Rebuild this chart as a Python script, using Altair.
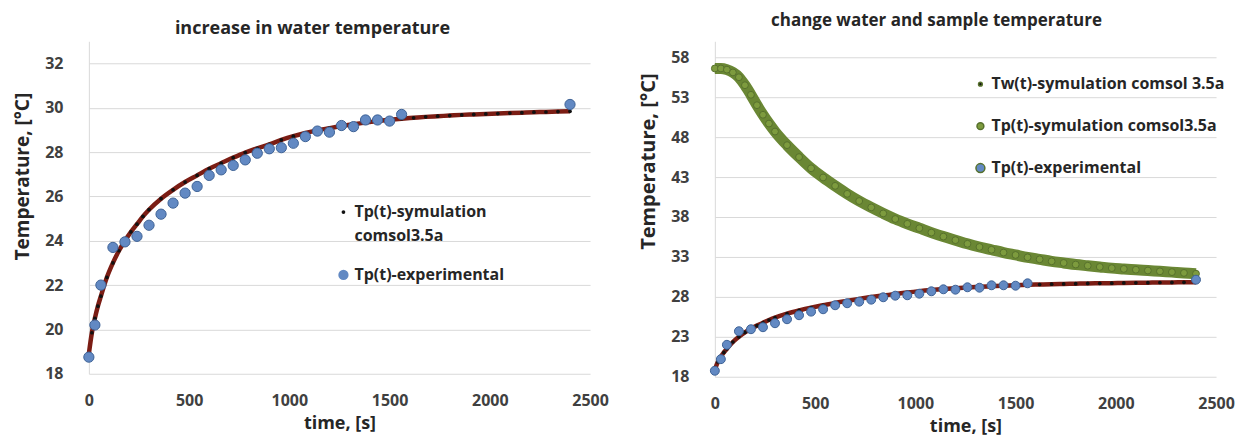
import altair as alt
import pandas as pd

FONT = "Open Sans"

# simulated water temperature (shared by both panels)
sim_t = [0, 15, 30, 45, 60, 90, 120, 150, 180, 210, 240, 270, 300, 360, 420, 480, 540, 600,
         660, 720, 780, 840, 900, 960, 1020, 1080, 1140, 1200, 1260, 1320, 1380, 1440, 1500,
         1560, 1620, 1680, 1740, 1800, 1860, 1920, 1980, 2040, 2100, 2160, 2220, 2280, 2340, 2400]
sim_T = [18.9, 19.85, 20.5, 21.05, 21.5, 22.35, 23.0, 23.55, 24.0, 24.4, 24.75, 25.1, 25.4,
         25.9, 26.3, 26.65, 26.95, 27.25, 27.5, 27.75, 27.98, 28.17, 28.35, 28.55, 28.72, 28.86,
         28.98, 29.08, 29.18, 29.26, 29.33, 29.4, 29.46, 29.51, 29.55, 29.59, 29.62, 29.65,
         29.68, 29.7, 29.72, 29.74, 29.76, 29.78, 29.8, 29.81, 29.83, 29.84]

# experimental points
exp_t = [0, 30, 60, 120, 180, 240, 300, 360, 420, 480, 540, 600, 660, 720, 780, 840, 900, 960,
         1020, 1080, 1140, 1200, 1260, 1320, 1380, 1440, 1500, 1560, 2400]
exp_T = [18.75, 20.2, 22.0, 23.7, 23.95, 24.2, 24.7, 25.2, 25.7, 26.15, 26.45, 26.95, 27.2,
         27.4, 27.65, 27.95, 28.15, 28.2, 28.4, 28.7, 28.95, 28.9, 29.2, 29.15, 29.45, 29.45,
         29.4, 29.7, 30.15]

# simulated sample temperature (right panel)
smp_t = [0, 30, 60, 90, 120, 150, 180, 210, 240, 270, 300, 360, 420, 480, 540, 600, 660, 720,
         780, 840, 900, 960, 1020, 1080, 1140, 1200, 1260, 1320, 1380, 1440, 1500, 1560, 1620,
         1680, 1740, 1800, 1860, 1920, 1980, 2040, 2100, 2160, 2220, 2280, 2340, 2400]
smp_T = [56.6, 56.6, 56.45, 56.1, 55.5, 54.5, 53.3, 52.0, 50.8, 49.7, 48.7, 47.0, 45.5, 44.1,
         42.95, 41.9, 40.9, 40.0, 39.2, 38.45, 37.75, 37.15, 36.6, 36.05, 35.55, 35.1, 34.65,
         34.25, 33.9, 33.55, 33.25, 32.95, 32.7, 32.45, 32.25, 32.05, 31.9, 31.75, 31.6, 31.5,
         31.4, 31.3, 31.2, 31.1, 31.0, 30.9]

x_ticks = [0, 500, 1000, 1500, 2000, 2500]
left_y_ticks = [18, 20, 22, 24, 26, 28, 30, 32]
right_y_ticks = [18, 23, 28, 33, 38, 43, 48, 53, 58]

left_names = ["Tp(t)-symulation comsol3.5a", "Tp(t)-experimental"]
right_names = ["Tw(t)-symulation comsol 3.5a", "Tp(t)-symulation comsol3.5a", "Tp(t)-experimental"]

MAROON = "#7b1d14"
BLUE = "#6289c3"
BLUE_EDGE = "#3e6296"
GREEN = "#7d9b3e"
GREEN_EDGE = "#56702c"
GREEN_LINE = "#6a8734"
GRID = "#d9d9d9"


def x_enc():
    return alt.X("t:Q", scale=alt.Scale(domain=[0, 2500], nice=False),
                 axis=alt.Axis(values=x_ticks, format="d", grid=False, ticks=False, domain=False,
                               labelFlush=False, labelPadding=19, labelFontSize=16,
                               title="time, [s]", titleFontSize=18, titlePadding=6))


def y_enc(dom, ticks, title_size, title_y):
    return alt.Y("T:Q", scale=alt.Scale(domain=dom, nice=False, zero=False),
                 axis=alt.Axis(values=ticks, grid=True, gridColor=GRID, ticks=False,
                               domain=True, domainColor=GRID, labelPadding=26,
                               labelFontSize=16, title="Temperature, [°C]",
                               titleFontSize=title_size, titlePadding=12, titleY=title_y))


def legend(lx, ly, row_pad, label_expr=None):
    kw = dict(orient="none", legendX=lx, legendY=ly, title=None, labelFont=FONT,
              labelFontSize=16, labelFontWeight="bold", labelColor="#262626",
              symbolType="circle", rowPadding=row_pad, labelLimit=400, labelOffset=3,
              padding=0)
    if label_expr:
        kw["labelExpr"] = label_expr
    return alt.Legend(**kw)


# ---------------- left panel ----------------
ldf_sim = pd.DataFrame({"t": sim_t, "T": sim_T, "s1": left_names[0]})
ldf_exp = pd.DataFrame({"t": exp_t, "T": exp_T, "s1": left_names[1]})

lx = x_enc()
ly = y_enc([18, 33], left_y_ticks, 19, 135)
lleg = legend(247, 163, 23,
              "datum.label == 'Tp(t)-symulation comsol3.5a' ? ['Tp(t)-symulation', 'comsol3.5a'] : datum.label")
lcolor = alt.Color("s1:N", scale=alt.Scale(domain=left_names, range=["#111111", BLUE]), legend=lleg)
lsize = alt.Size("s1:N", scale=alt.Scale(domain=left_names, range=[14, 105]), legend=lleg)

left = alt.layer(
    alt.Chart(ldf_sim).mark_line(color=MAROON, strokeWidth=4.5, interpolate="monotone").encode(x=lx, y=ly),
    alt.Chart(ldf_sim).mark_point(filled=True, opacity=1).encode(x=lx, y=ly, color=lcolor, size=lsize),
    alt.Chart(ldf_exp).mark_point(filled=True, opacity=1, stroke=BLUE_EDGE, strokeWidth=1).encode(
        x=lx, y=ly, color=lcolor, size=lsize),
).properties(
    width=502, height=333,
    title=alt.TitleParams("increase in water temperature", fontSize=18, offset=3, dx=-27),
)

# ---------------- right panel ----------------
rdf_sim = pd.DataFrame({"t": sim_t, "T": sim_T, "s2": right_names[0]})
rdf_smp = pd.DataFrame({"t": smp_t, "T": smp_T, "s2": right_names[1]})
rdf_exp = pd.DataFrame({"t": exp_t, "T": exp_T, "s2": right_names[2]})

rx = x_enc()
ry = y_enc([18, 60], right_y_ticks, 20, 120)
rleg = legend(258, 35, 26)
rcolor = alt.Color("s2:N", scale=alt.Scale(domain=right_names, range=["#111111", GREEN, BLUE]), legend=rleg)
rsize = alt.Size("s2:N", scale=alt.Scale(domain=right_names, range=[14, 80, 90]), legend=rleg)

right = alt.layer(
    alt.Chart(rdf_smp).mark_line(color=GREEN_LINE, strokeWidth=11, interpolate="monotone").encode(x=rx, y=ry),
    alt.Chart(rdf_smp).mark_point(filled=True, opacity=1, stroke=GREEN_EDGE, strokeWidth=1).encode(
        x=rx, y=ry, color=rcolor, size=rsize),
    alt.Chart(rdf_sim).mark_line(color=MAROON, strokeWidth=4.5, interpolate="monotone").encode(x=rx, y=ry),
    alt.Chart(rdf_sim).mark_point(filled=True, opacity=1).encode(x=rx, y=ry, color=rcolor, size=rsize),
    alt.Chart(rdf_exp).mark_point(filled=True, opacity=1, stroke=BLUE_EDGE, strokeWidth=1).encode(
        x=rx, y=ry, color=rcolor, size=rsize),
).properties(
    width=502, height=336,
    title=alt.TitleParams("change water and sample temperature", fontSize=17, offset=11, dx=-29),
)

chart = alt.hconcat(left, right, spacing=29).resolve_scale(
    x="independent", y="independent", color="independent", size="independent"
).resolve_legend(color="independent", size="independent").properties(
    padding={"left": 5, "top": 4, "right": 5, "bottom": 0}
).configure(
    style={"guide-label": {"lineHeight": 24}}
).configure_view(stroke=None).configure_axis(
    labelFont=FONT, titleFont=FONT, labelFontWeight="bold", titleFontWeight="bold",
    labelColor="#404040", titleColor="#262626"
).configure_title(
    font=FONT, fontWeight="bold", color="#262626", anchor="middle"
)

chart.save("out.html", embed_options={"renderer": "svg", "actions": False})
